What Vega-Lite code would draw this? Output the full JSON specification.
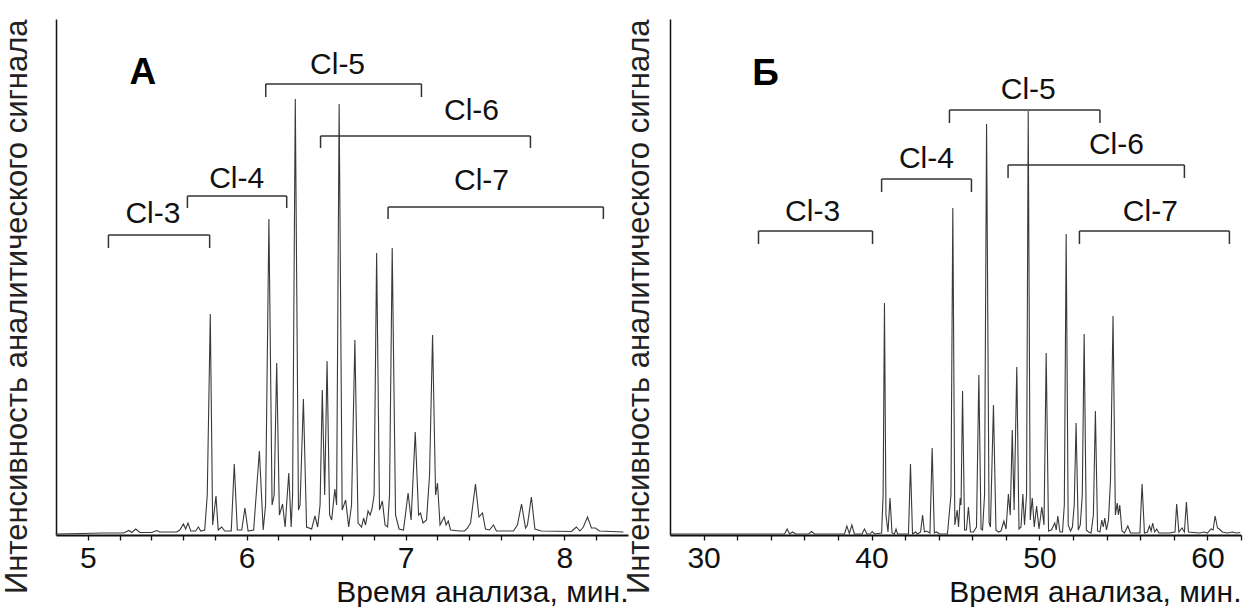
{
  "$schema": "https://vega.github.io/schema/vega-lite/v6.json",
  "background": "white",
  "padding": {"left": 0, "top": 18, "right": 0, "bottom": 0},
  "spacing": -6,
  "config": {
    "view": {"stroke": null},
    "font": "Liberation Sans",
    "axisX": {"grid": false, "domainColor": "#111", "domainWidth": 2, "tickColor": "#111", "tickWidth": 1.3, "tickSize": 5, "labelFontSize": 30, "labelColor": "#111", "labelPadding": 3, "titleFontSize": 30, "titleFontWeight": "normal", "titleColor": "#111", "titleAnchor": "end", "titlePadding": 4},
    "axisY": {"grid": false, "domainColor": "#111", "domainWidth": 1.5, "ticks": false, "labels": false, "titleFontSize": 31, "titleFontWeight": "normal", "titleColor": "#222", "titleAnchor": "end", "titlePadding": 23}
  },
  "datasets": {
    "chromA": [
      {"t": 4.799, "I": 1}, {"t": 4.962, "I": 1.5}, {"t": 5.088, "I": 2}, {"t": 5.226, "I": 2}, {"t": 5.258, "I": 4.5}, {"t": 5.277, "I": 2.5}, {"t": 5.302, "I": 6}, {"t": 5.327, "I": 2.5}, {"t": 5.403, "I": 2.5}, {"t": 5.434, "I": 4.5}, {"t": 5.453, "I": 3}, {"t": 5.56, "I": 3}, {"t": 5.579, "I": 5}, {"t": 5.602, "I": 11}, {"t": 5.616, "I": 6}, {"t": 5.631, "I": 12}, {"t": 5.648, "I": 4}, {"t": 5.679, "I": 4}, {"t": 5.696, "I": 8}, {"t": 5.711, "I": 4}, {"t": 5.736, "I": 5}, {"t": 5.752, "I": 40}, {"t": 5.771, "I": 221}, {"t": 5.786, "I": 10}, {"t": 5.807, "I": 39}, {"t": 5.821, "I": 5}, {"t": 5.843, "I": 8}, {"t": 5.862, "I": 4}, {"t": 5.903, "I": 4}, {"t": 5.922, "I": 71}, {"t": 5.941, "I": 5}, {"t": 5.969, "I": 5}, {"t": 5.989, "I": 27}, {"t": 6.009, "I": 4}, {"t": 6.044, "I": 5}, {"t": 6.08, "I": 84}, {"t": 6.104, "I": 5}, {"t": 6.119, "I": 30}, {"t": 6.14, "I": 316}, {"t": 6.16, "I": 30}, {"t": 6.173, "I": 40}, {"t": 6.189, "I": 172}, {"t": 6.206, "I": 20}, {"t": 6.226, "I": 31}, {"t": 6.242, "I": 8}, {"t": 6.265, "I": 62}, {"t": 6.28, "I": 8}, {"t": 6.289, "I": 40}, {"t": 6.306, "I": 436}, {"t": 6.326, "I": 25}, {"t": 6.336, "I": 30}, {"t": 6.357, "I": 136}, {"t": 6.377, "I": 8}, {"t": 6.409, "I": 6}, {"t": 6.43, "I": 19}, {"t": 6.447, "I": 8}, {"t": 6.462, "I": 30}, {"t": 6.476, "I": 145}, {"t": 6.491, "I": 40}, {"t": 6.506, "I": 174}, {"t": 6.522, "I": 20}, {"t": 6.535, "I": 15}, {"t": 6.555, "I": 46}, {"t": 6.566, "I": 30}, {"t": 6.582, "I": 431}, {"t": 6.601, "I": 25}, {"t": 6.623, "I": 35}, {"t": 6.642, "I": 8}, {"t": 6.66, "I": 30}, {"t": 6.681, "I": 195}, {"t": 6.701, "I": 12}, {"t": 6.723, "I": 8}, {"t": 6.736, "I": 17}, {"t": 6.748, "I": 10}, {"t": 6.764, "I": 24}, {"t": 6.777, "I": 20}, {"t": 6.789, "I": 26}, {"t": 6.802, "I": 40}, {"t": 6.818, "I": 282}, {"t": 6.836, "I": 25}, {"t": 6.854, "I": 34}, {"t": 6.871, "I": 10}, {"t": 6.887, "I": 8}, {"t": 6.899, "I": 40}, {"t": 6.916, "I": 287}, {"t": 6.937, "I": 20}, {"t": 6.959, "I": 6}, {"t": 6.987, "I": 5}, {"t": 7.016, "I": 42}, {"t": 7.035, "I": 15}, {"t": 7.061, "I": 103}, {"t": 7.082, "I": 20}, {"t": 7.094, "I": 22}, {"t": 7.11, "I": 12}, {"t": 7.132, "I": 15}, {"t": 7.151, "I": 60}, {"t": 7.17, "I": 200}, {"t": 7.189, "I": 40}, {"t": 7.201, "I": 52}, {"t": 7.217, "I": 10}, {"t": 7.243, "I": 18}, {"t": 7.255, "I": 10}, {"t": 7.269, "I": 14}, {"t": 7.283, "I": 5}, {"t": 7.34, "I": 4}, {"t": 7.371, "I": 4}, {"t": 7.39, "I": 7}, {"t": 7.409, "I": 12}, {"t": 7.44, "I": 51}, {"t": 7.462, "I": 18}, {"t": 7.484, "I": 22}, {"t": 7.503, "I": 6}, {"t": 7.528, "I": 5}, {"t": 7.553, "I": 10}, {"t": 7.572, "I": 4}, {"t": 7.679, "I": 4}, {"t": 7.704, "I": 10}, {"t": 7.73, "I": 31}, {"t": 7.755, "I": 7}, {"t": 7.767, "I": 10}, {"t": 7.792, "I": 38}, {"t": 7.814, "I": 6}, {"t": 7.855, "I": 4}, {"t": 8.044, "I": 3.5}, {"t": 8.075, "I": 8}, {"t": 8.097, "I": 4}, {"t": 8.119, "I": 8}, {"t": 8.145, "I": 18}, {"t": 8.17, "I": 7}, {"t": 8.195, "I": 7}, {"t": 8.22, "I": 4}, {"t": 8.371, "I": 3}
    ],
    "chromB": [
      {"t": 28.04, "I": 1}, {"t": 29.76, "I": 1}, {"t": 34.82, "I": 1}, {"t": 34.98, "I": 6}, {"t": 35.12, "I": 1}, {"t": 35.3, "I": 3}, {"t": 35.48, "I": 1}, {"t": 36.25, "I": 1}, {"t": 36.43, "I": 3.5}, {"t": 36.61, "I": 1}, {"t": 38.39, "I": 1}, {"t": 38.53, "I": 9}, {"t": 38.68, "I": 1.5}, {"t": 38.83, "I": 10}, {"t": 38.98, "I": 1}, {"t": 39.43, "I": 1}, {"t": 39.58, "I": 6}, {"t": 39.73, "I": 1}, {"t": 39.91, "I": 1}, {"t": 40.04, "I": 3.5}, {"t": 40.18, "I": 1}, {"t": 40.6, "I": 2}, {"t": 40.69, "I": 40}, {"t": 40.77, "I": 232}, {"t": 40.86, "I": 20}, {"t": 40.98, "I": 3}, {"t": 41.1, "I": 37}, {"t": 41.22, "I": 2}, {"t": 41.36, "I": 1}, {"t": 41.46, "I": 6}, {"t": 41.55, "I": 1}, {"t": 42.2, "I": 1}, {"t": 42.32, "I": 71}, {"t": 42.44, "I": 1}, {"t": 42.62, "I": 3}, {"t": 42.74, "I": 1}, {"t": 42.92, "I": 3}, {"t": 43.04, "I": 20}, {"t": 43.15, "I": 3}, {"t": 43.27, "I": 4}, {"t": 43.48, "I": 2}, {"t": 43.61, "I": 87}, {"t": 43.74, "I": 2}, {"t": 43.87, "I": 3}, {"t": 44.05, "I": 1}, {"t": 44.52, "I": 1}, {"t": 44.73, "I": 40}, {"t": 44.84, "I": 327}, {"t": 44.96, "I": 10}, {"t": 45.1, "I": 25}, {"t": 45.18, "I": 8}, {"t": 45.28, "I": 37}, {"t": 45.33, "I": 30}, {"t": 45.42, "I": 144}, {"t": 45.54, "I": 5}, {"t": 45.65, "I": 5}, {"t": 45.77, "I": 28}, {"t": 45.89, "I": 3}, {"t": 46.07, "I": 3}, {"t": 46.25, "I": 8}, {"t": 46.39, "I": 160}, {"t": 46.52, "I": 6}, {"t": 46.61, "I": 5}, {"t": 46.73, "I": 40}, {"t": 46.85, "I": 411}, {"t": 47.0, "I": 12}, {"t": 47.08, "I": 8}, {"t": 47.26, "I": 130}, {"t": 47.41, "I": 5}, {"t": 47.56, "I": 3}, {"t": 47.71, "I": 4}, {"t": 47.88, "I": 14}, {"t": 48.01, "I": 6}, {"t": 48.15, "I": 41}, {"t": 48.26, "I": 20}, {"t": 48.38, "I": 105}, {"t": 48.49, "I": 25}, {"t": 48.65, "I": 168}, {"t": 48.78, "I": 6}, {"t": 48.9, "I": 8}, {"t": 49.01, "I": 41}, {"t": 49.11, "I": 10}, {"t": 49.23, "I": 40}, {"t": 49.33, "I": 424}, {"t": 49.45, "I": 15}, {"t": 49.57, "I": 37}, {"t": 49.69, "I": 8}, {"t": 49.83, "I": 29}, {"t": 49.97, "I": 6}, {"t": 50.14, "I": 28}, {"t": 50.27, "I": 10}, {"t": 50.4, "I": 182}, {"t": 50.54, "I": 4}, {"t": 50.71, "I": 5}, {"t": 50.91, "I": 12}, {"t": 51.0, "I": 5}, {"t": 51.09, "I": 19}, {"t": 51.22, "I": 3}, {"t": 51.37, "I": 3}, {"t": 51.48, "I": 30}, {"t": 51.59, "I": 301}, {"t": 51.71, "I": 10}, {"t": 51.85, "I": 4}, {"t": 51.96, "I": 8}, {"t": 52.07, "I": 30}, {"t": 52.18, "I": 112}, {"t": 52.31, "I": 5}, {"t": 52.43, "I": 10}, {"t": 52.55, "I": 40}, {"t": 52.66, "I": 201}, {"t": 52.79, "I": 5}, {"t": 52.92, "I": 3}, {"t": 53.07, "I": 2}, {"t": 53.21, "I": 20}, {"t": 53.33, "I": 124}, {"t": 53.46, "I": 4}, {"t": 53.6, "I": 3}, {"t": 53.71, "I": 15}, {"t": 53.8, "I": 8}, {"t": 53.89, "I": 17}, {"t": 53.99, "I": 5}, {"t": 54.11, "I": 15}, {"t": 54.23, "I": 55}, {"t": 54.38, "I": 219}, {"t": 54.52, "I": 20}, {"t": 54.63, "I": 32}, {"t": 54.7, "I": 20}, {"t": 54.78, "I": 30}, {"t": 54.91, "I": 4}, {"t": 55.06, "I": 2}, {"t": 55.26, "I": 9}, {"t": 55.42, "I": 2}, {"t": 55.98, "I": 2}, {"t": 56.11, "I": 51}, {"t": 56.25, "I": 2}, {"t": 56.43, "I": 3}, {"t": 56.55, "I": 9}, {"t": 56.65, "I": 4}, {"t": 56.74, "I": 12}, {"t": 56.86, "I": 3}, {"t": 56.98, "I": 6}, {"t": 57.11, "I": 2}, {"t": 57.74, "I": 2}, {"t": 58.07, "I": 3}, {"t": 58.17, "I": 31}, {"t": 58.3, "I": 3}, {"t": 58.49, "I": 7}, {"t": 58.63, "I": 3}, {"t": 58.75, "I": 33}, {"t": 58.87, "I": 3}, {"t": 59.52, "I": 2}, {"t": 59.82, "I": 3}, {"t": 60.0, "I": 2}, {"t": 60.22, "I": 6}, {"t": 60.34, "I": 5}, {"t": 60.46, "I": 19}, {"t": 60.6, "I": 7}, {"t": 60.71, "I": 6}, {"t": 60.89, "I": 3}, {"t": 61.19, "I": 2}, {"t": 61.49, "I": 3}, {"t": 61.73, "I": 2}, {"t": 61.96, "I": 2.5}
    ],
    "groupsA": [
      {"label": "Cl-3", "start": 5.13, "end": 5.767, "level": 300, "drop": 287, "mid": 5.41, "ly": 321},
      {"label": "Cl-4", "start": 5.627, "end": 6.252, "level": 339, "drop": 327, "mid": 5.937, "ly": 356},
      {"label": "Cl-5", "start": 6.12, "end": 7.1, "level": 451, "drop": 438, "mid": 6.572, "ly": 470},
      {"label": "Cl-6", "start": 6.465, "end": 7.786, "level": 399, "drop": 387, "mid": 7.415, "ly": 424},
      {"label": "Cl-7", "start": 6.89, "end": 8.245, "level": 328, "drop": 316, "mid": 7.478, "ly": 354}
    ],
    "groupsB": [
      {"label": "Cl-3", "start": 33.27, "end": 40.06, "level": 304, "drop": 291, "mid": 36.49, "ly": 323},
      {"label": "Cl-4", "start": 40.6, "end": 45.95, "level": 356, "drop": 343, "mid": 43.27, "ly": 376},
      {"label": "Cl-5", "start": 44.64, "end": 53.6, "level": 425, "drop": 412, "mid": 49.33, "ly": 445},
      {"label": "Cl-6", "start": 48.13, "end": 58.63, "level": 370, "drop": 357, "mid": 54.58, "ly": 390},
      {"label": "Cl-7", "start": 52.38, "end": 61.31, "level": 304, "drop": 291, "mid": 56.6, "ly": 323}
    ],
    "panelA": [{"name": "А", "x": 5.346, "y": 462}],
    "panelB": [{"name": "Б", "x": 33.69, "y": 461}]
  },
  "hconcat": [
    {
      "width": 572,
      "height": 516,
      "resolve": {"axis": {"x": "independent"}},
      "layer": [
        {
          "data": {"name": "chromA"},
          "mark": {"type": "line", "color": "#3a3a3a", "strokeWidth": 1.1, "interpolate": "linear"},
          "encoding": {
            "x": {"field": "t", "type": "quantitative", "scale": {"domain": [4.8, 8.4], "nice": false, "zero": false},
              "axis": {"title": "Время анализа, мин.", "orient": "bottom", "values": [5, 6, 7, 8]}},
            "y": {"field": "I", "type": "quantitative", "scale": {"domain": [0, 516], "nice": false},
              "axis": {"title": "Интенсивность аналитического сигнала"}}
          }
        },
        {
          "data": {"name": "groupsA"},
          "mark": {"type": "rule", "color": "#333", "strokeWidth": 1.5},
          "encoding": {
            "x": {"field": "start", "type": "quantitative", "axis": null},
            "x2": {"field": "end"},
            "y": {"field": "level", "type": "quantitative"}
          }
        },
        {
          "data": {"name": "groupsA"},
          "mark": {"type": "rule", "color": "#333", "strokeWidth": 1.5},
          "encoding": {
            "x": {"field": "start", "type": "quantitative", "axis": null},
            "y": {"field": "level", "type": "quantitative"},
            "y2": {"field": "drop"}
          }
        },
        {
          "data": {"name": "groupsA"},
          "mark": {"type": "rule", "color": "#333", "strokeWidth": 1.5},
          "encoding": {
            "x": {"field": "end", "type": "quantitative", "axis": null},
            "y": {"field": "level", "type": "quantitative"},
            "y2": {"field": "drop"}
          }
        },
        {
          "data": {"name": "groupsA"},
          "mark": {"type": "text", "fontSize": 30, "color": "#111", "baseline": "middle", "align": "center"},
          "encoding": {
            "x": {"field": "mid", "type": "quantitative",
              "axis": {"title": null, "orient": "bottom", "labels": false, "domain": false, "values": [5.2, 5.4, 5.6, 5.8, 6.2, 6.4, 6.6, 6.8, 7.2, 7.4, 7.6, 7.8, 8.2]}},
            "y": {"field": "ly", "type": "quantitative"},
            "text": {"field": "label"}
          }
        },
        {
          "data": {"name": "panelA"},
          "mark": {"type": "text", "fontSize": 37, "fontWeight": "bold", "color": "#000", "baseline": "middle", "align": "center"},
          "encoding": {
            "x": {"field": "x", "type": "quantitative", "axis": null},
            "y": {"field": "y", "type": "quantitative"},
            "text": {"field": "name"}
          }
        }
      ]
    },
    {
      "width": 571,
      "height": 516,
      "resolve": {"axis": {"x": "independent"}},
      "layer": [
        {
          "data": {"name": "chromB"},
          "mark": {"type": "line", "color": "#3a3a3a", "strokeWidth": 1.1, "interpolate": "linear"},
          "encoding": {
            "x": {"field": "t", "type": "quantitative", "scale": {"domain": [28, 62], "nice": false, "zero": false},
              "axis": {"title": "Время анализа, мин.", "orient": "bottom", "values": [30, 40, 50, 60]}},
            "y": {"field": "I", "type": "quantitative", "scale": {"domain": [0, 516], "nice": false},
              "axis": {"title": "Интенсивность аналитического сигнала", "titlePadding": 15}}
          }
        },
        {
          "data": {"name": "groupsB"},
          "mark": {"type": "rule", "color": "#333", "strokeWidth": 1.5},
          "encoding": {
            "x": {"field": "start", "type": "quantitative", "axis": null},
            "x2": {"field": "end"},
            "y": {"field": "level", "type": "quantitative"}
          }
        },
        {
          "data": {"name": "groupsB"},
          "mark": {"type": "rule", "color": "#333", "strokeWidth": 1.5},
          "encoding": {
            "x": {"field": "start", "type": "quantitative", "axis": null},
            "y": {"field": "level", "type": "quantitative"},
            "y2": {"field": "drop"}
          }
        },
        {
          "data": {"name": "groupsB"},
          "mark": {"type": "rule", "color": "#333", "strokeWidth": 1.5},
          "encoding": {
            "x": {"field": "end", "type": "quantitative", "axis": null},
            "y": {"field": "level", "type": "quantitative"},
            "y2": {"field": "drop"}
          }
        },
        {
          "data": {"name": "groupsB"},
          "mark": {"type": "text", "fontSize": 30, "color": "#111", "baseline": "middle", "align": "center"},
          "encoding": {
            "x": {"field": "mid", "type": "quantitative",
              "axis": {"title": null, "orient": "bottom", "labels": false, "domain": false, "values": [32, 34, 36, 38, 42, 44, 46, 48, 52, 54, 56, 58, 62]}},
            "y": {"field": "ly", "type": "quantitative"},
            "text": {"field": "label"}
          }
        },
        {
          "data": {"name": "panelB"},
          "mark": {"type": "text", "fontSize": 37, "fontWeight": "bold", "color": "#000", "baseline": "middle", "align": "center"},
          "encoding": {
            "x": {"field": "x", "type": "quantitative", "axis": null},
            "y": {"field": "y", "type": "quantitative"},
            "text": {"field": "name"}
          }
        }
      ]
    }
  ]
}
